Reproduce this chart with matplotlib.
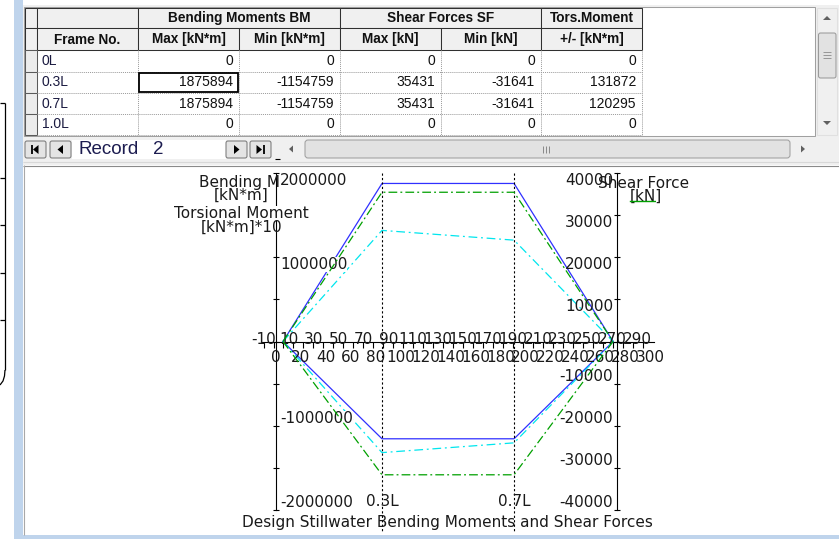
import matplotlib
matplotlib.use('Agg')
import matplotlib.pyplot as plt
import matplotlib.patches as mpatches
import numpy as np

# record 2 of the stillwater table
frames = ['0L', '0.3L', '0.7L', '1.0L']
frame_pos = [5.6, 85.0, 190.9, 270.3]      # chart x position of each frame
bm_max = [0, 1875894, 1875894, 0]
bm_min = [0, -1154759, -1154759, 0]
sf_max = [0, 35431, 35431, 0]
sf_min = [0, -31641, -31641, 0]
tors = [0, 131872, 120295, 0]
record_no = 2

group_heads = ['Bending Moments BM', 'Shear Forces SF', 'Tors.Moment']
col_heads = ['Frame No.', 'Max [kN*m]', 'Min [kN*m]', 'Max [kN]', 'Min [kN]', '+/- [kN*m]']

bm_ticks = [2000000, 1000000, -1000000, -2000000]
sf_ticks = [40000, 30000, 20000, 10000, -10000, -20000, -30000, -40000]
x_bottom = list(range(0, 301, 20))
x_top = list(range(-10, 291, 20))

W, H = 839, 539
fig = plt.figure(figsize=(W / 100, H / 100), dpi=100)
fig.patch.set_facecolor('white')

# pixel-space axes for the window chrome
ui = fig.add_axes([0, 0, 1, 1])
ui.set_xlim(0, W)
ui.set_ylim(H, 0)
ui.set_axis_off()
T = ui.transData


def rect(x0, y0, x1, y1, fc='none', ec='none', lw=0.75, z=1):
    ui.add_patch(mpatches.Rectangle((x0, y0), x1 - x0, y1 - y0, facecolor=fc,
                                    edgecolor=ec, lw=lw, zorder=z))


def seg(xs, ys, c='black', lw=0.75, ls='-', z=3):
    ui.plot(xs, ys, color=c, lw=lw, ls=ls, zorder=z, solid_capstyle='butt')


def tri(pts, c='black', z=4):
    ui.add_patch(mpatches.Polygon(pts, closed=True, facecolor=c, edgecolor='none', zorder=z))


def button(x0, x1, y0=141, y1=158):
    ui.add_patch(mpatches.FancyBboxPatch((x0, y0), x1 - x0, y1 - y0,
                                         boxstyle='round,pad=0,rounding_size=2',
                                         facecolor='#e4e4e4', edgecolor='#7a7a7a', lw=0.75, zorder=2))


# background window bits on the far left
seg([5, 5], [103, 370], 'black', 0.9)
for y in [103, 178, 225, 273, 320]:
    seg([0, 5], [y, y], 'black', 0.9)
seg([5, 4.5, 3, 0], [370, 376, 381, 385], 'black', 0.9)
rect(14, 0, 23, H, fc='#bfd4ec')
rect(14, 535, W, H, fc='#bfd4ec')

# window body
rect(23, 5, W, 535, fc='#f0f0f0')
rect(24, 7, 815, 136, fc='white', ec='#a0a0a0')

# grid table
cols = [25, 37, 138, 239, 340, 441, 541, 642]
rows = [8, 28, 50, 71.5, 93, 114, 135]
hdr_fc, hdr_ec = '#f0f0f0', '#303030'
tfont = dict(family='Liberation Sans', color='#111111')

for x0, x1 in [(25, 37), (37, 138)]:
    rect(x0, rows[0], x1, rows[1], fc=hdr_fc, ec=hdr_ec, z=2)
for (x0, x1), s in zip([(138, 340), (340, 541), (541, 642)], group_heads):
    rect(x0, rows[0], x1, rows[1], fc=hdr_fc, ec=hdr_ec, z=2)
    ui.text((x0 + x1) / 2, 18, s, ha='center', va='center', fontsize=9.8,
            fontweight='bold', zorder=5, **tfont)
rect(25, rows[1], 37, rows[2], fc=hdr_fc, ec=hdr_ec, z=2)
for i, s in enumerate(col_heads):
    x0, x1 = cols[i + 1], cols[i + 2]
    rect(x0, rows[1], x1, rows[2], fc=hdr_fc, ec=hdr_ec, z=2)
    ui.text((x0 + x1) / 2, 39.5, s, ha='center', va='center', fontsize=9.8,
            fontweight='bold', zorder=5, **tfont)

for r in range(4):
    rect(25, rows[r + 2], 37, rows[r + 3], fc='#ececec', ec='#5a5a5a', z=2)
for y in rows[3:]:
    seg([37, 642], [y, y], '#9a9a9a', 0.7, (0, (1, 1)), z=2)
for x in cols[2:]:
    seg([x, x], [50, 135], '#9a9a9a', 0.7, (0, (1, 1)), z=2)

table_cols = [bm_max, bm_min, sf_max, sf_min, tors]
for r, name in enumerate(frames):
    yc = (rows[r + 2] + rows[r + 3]) / 2
    ui.text(42, yc, name, ha='left', va='center', fontsize=10, zorder=5,
            family='Liberation Sans', color='#1a1a40')
    for c, vals in enumerate(table_cols):
        ui.text(cols[c + 3] - 6, yc, str(vals[r]), ha='right', va='center',
                fontsize=10, zorder=5, **tfont)
rect(139, 72.5, 238, 92, ec='black', lw=1.3, z=4)

# vertical scrollbar
rect(817, 8, 837, 135, fc='#f0f0f0', ec='#e0e0e0')
tri([(823, 20), (831, 20), (827, 16)], '#606060')
tri([(823, 121), (831, 121), (827, 125)], '#606060')
ui.add_patch(mpatches.FancyBboxPatch((818.5, 33), 17.5, 45, boxstyle='round,pad=0,rounding_size=2',
                                     facecolor='#e2e2e2', edgecolor='#9a9a9a', lw=0.75, zorder=3))
for y in [52, 55, 58]:
    seg([823, 831], [y, y], '#8a8a8a', 0.6, z=4)

# record navigator
rect(23, 137, W, 161, fc='#f0f0f0')
rect(72, 140, 226, 159, fc='white')
for x0, x1 in [(25, 46), (50, 71), (226, 247), (250, 271)]:
    button(x0, x1)
seg([31.5, 31.5], [145, 154], 'black', 1.3, z=5)
tri([(33, 149.5), (38.5, 145), (38.5, 154)])
tri([(57.5, 149.5), (63, 145), (63, 154)])
tri([(239.5, 149.5), (234, 145), (234, 154)])
tri([(262, 149.5), (256.5, 145), (256.5, 154)])
seg([263.5, 263.5], [145, 154], 'black', 1.3, z=5)
ui.text(79, 149, 'Record', ha='left', va='center', fontsize=13.5,
        family='Liberation Sans', color='#1c1c50', zorder=5)
ui.text(153, 149, str(record_no), ha='left', va='center', fontsize=13.5,
        family='Liberation Sans', color='#1c1c50', zorder=5)
seg([275, 280], [158.5, 158.5], 'black', 0.8)
tri([(293, 145.5), (293, 152.5), (289, 149)], '#606060')
ui.add_patch(mpatches.FancyBboxPatch((305, 140), 485, 18, boxstyle='round,pad=0,rounding_size=3',
                                     facecolor='#e2e2e2', edgecolor='#a0a0a0', lw=0.75, zorder=3))
for x in [543, 546, 549]:
    seg([x, x], [145.5, 152.5], '#7a7a7a', 0.6, z=4)
tri([(801, 145.5), (801, 152.5), (805, 149)], '#606060')
seg([23, W], [161.5, 161.5], '#d8d8d8', 0.8)

# chart panel
rect(23, 165, W, 535, fc='white')
seg([23, W], [165.5, 165.5], '#8a8a8a', 0.8)
seg([23.5, 23.5], [165, 535], '#a8a8a8', 0.8)

# ---- chart ----
XPX0, XS = 276.0, 1.247       # pixel of x=0, pixels per x unit
YTOP, YBOT = 173.0, 510.0
xlim = (-12, 305)
lpx, rpx = XPX0 + XS * xlim[0], XPX0 + XS * xlim[1]
box = [lpx / W, (H - YBOT) / H, (rpx - lpx) / W, (YBOT - YTOP) / H]
ax = fig.add_axes(box)
ax.set_xlim(*xlim)
ax.set_ylim(-2e6, 2e6)
ax.set_axis_off()
ax2 = fig.add_axes(box)
ax2.set_xlim(*xlim)
ax2.set_ylim(-4e4, 4e4)
ax2.set_axis_off()


def by(py):
    return ((YTOP + YBOT) / 2 - py) / ((YBOT - YTOP) / 2) * 2e6


ink = '#1a1a1a'
cfont = dict(fontsize=11, color=ink, family='DejaVu Sans')
blue, green, cyan = '#3030ff', '#00a000', '#00e6ee'
x_right = 273.5

# axes lines and ticks
ax.plot([-11, 303], [0, 0], color='black', lw=0.8, clip_on=False)
ax.plot([0, 0], [-2e6, 2e6], color='black', lw=0.8, clip_on=False)
ax.plot([0] * 9, np.arange(-2e6, 2.01e6, 5e5), ls='none', marker='_', ms=5, mew=0.8,
        color='black', clip_on=False)
ax.plot(np.arange(-10, 301, 8), [0] * 39, ls='none', marker=3, ms=4.5, mew=0.8,
        color='black', clip_on=False)
ax2.plot([x_right, x_right], [-4e4, 4e4], color='black', lw=0.8, clip_on=False)
ax2.plot([x_right] * 9, np.arange(-4e4, 4.01e4, 1e4), ls='none', marker='_', ms=5, mew=0.8,
         color='black', clip_on=False)

# series
t10 = [10 * t for t in tors]
ax.plot(frame_pos, bm_max, color=blue, lw=0.9)
ax.plot(frame_pos, bm_min, color=blue, lw=0.9)
ax.plot(frame_pos, t10, color=cyan, lw=0.9, ls=(0, (7, 3, 1.5, 3)))
ax.plot(frame_pos, [-v for v in t10], color=cyan, lw=0.9, ls=(0, (7, 3, 1.5, 3)))
ax2.plot(frame_pos, sf_max, color=green, lw=0.9, ls=(0, (7, 2.5, 1.5, 2.5)))
ax2.plot(frame_pos, sf_min, color=green, lw=0.9, ls=(0, (7, 2.5, 1.5, 2.5)))

for i in (1, 2):
    ax.plot([frame_pos[i]] * 2, [2e6, by(531)], color='black', lw=0.8, ls=(0, (2, 2)),
            clip_on=False)
    ax.text(frame_pos[i], by(502), frames[i], ha='center', va='center', **cfont)

# axis titles with legend strokes
ax.text(199, 183, 'Bending Moment', transform=T, ha='left', va='center', zorder=3, **cfont)
ax.text(241, 195, '[kN*m]', transform=T, ha='center', va='center', zorder=3, **cfont)
ax.text(241, 213, 'Torsional Moment', transform=T, ha='center', va='center', zorder=3,
        bbox=dict(boxstyle='square,pad=0', fc='white', ec='none'), **cfont)
ax.text(242, 227, '[kN*m]*10', transform=T, ha='center', va='center', zorder=3, **cfont)
ax.plot([225, 257], [200, 200], color=blue, lw=1, transform=T, zorder=4)
ax.plot([225, 257], [230.5, 230.5], color=cyan, lw=1, transform=T, zorder=4)
ax2.text(598, 183, 'Shear Force', transform=T, ha='left', va='center', zorder=6, **cfont)
ax2.text(646, 196, '[kN]', transform=T, ha='center', va='center', zorder=6, **cfont)
ax2.plot([630, 663], [201, 201], color=green, lw=1, transform=T, zorder=7)

# tick labels
for v in bm_ticks:
    ax.text(3.2, v, str(v), ha='left', va='top' if v > 0 else 'bottom', zorder=5,
            bbox=dict(boxstyle='square,pad=0', fc='white', ec='none'), **cfont)
for v in sf_ticks:
    ax2.text(270.3, v, str(v), ha='right', va='top' if v > 0 else 'bottom', zorder=5, **cfont)
for v in x_bottom:
    ax.text(v, by(358), str(v), ha='center', va='center', **cfont)
for v in x_top:
    ax.text(v, by(339.5), str(v), ha='center', va='center', **cfont)

ax.text(447, 522, 'Design Stillwater Bending Moments and Shear Forces', transform=T,
        ha='center', va='center', **cfont)

fig.savefig('out.png', dpi=100)
